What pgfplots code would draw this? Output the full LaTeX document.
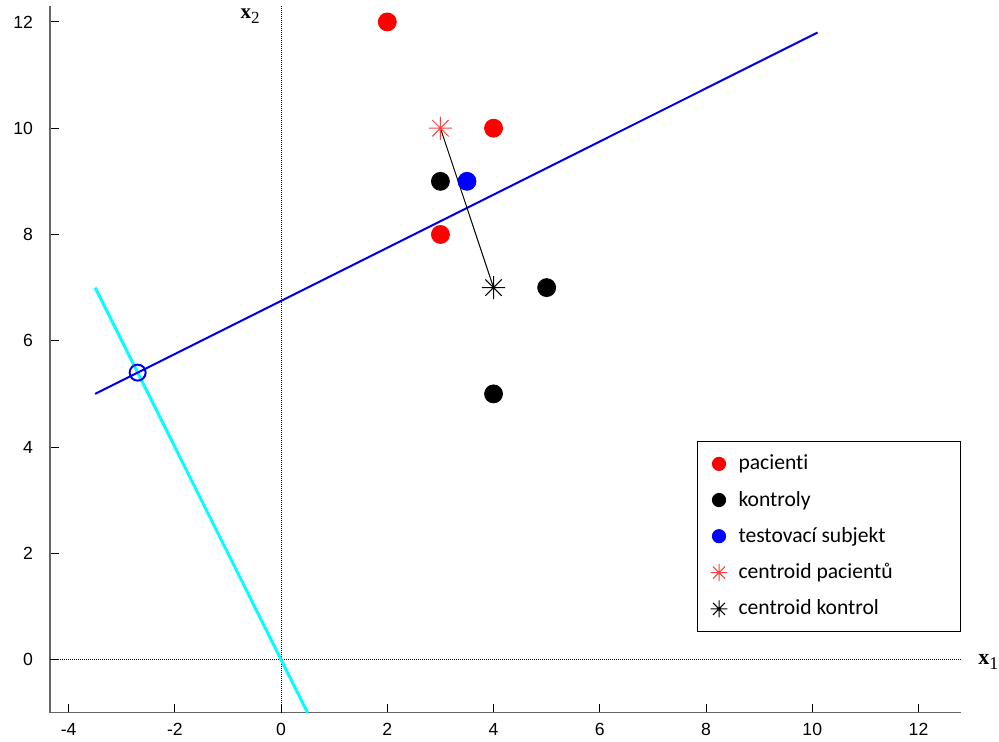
\documentclass[border=0pt]{standalone}
\usepackage{fontspec}
\setmainfont{Liberation Sans}
\newfontfamily\carlito[Ligatures=NoCommon]{Carlito}
\newfontfamily\tnr{Liberation Serif}
\usepackage{pgfplots}
\pgfplotsset{compat=1.18}
\definecolor{cy}{RGB}{0,255,255}
\definecolor{bl}{RGB}{0,0,240}
\pgfdeclareplotmark{ast8}{%
  \pgfpathmoveto{\pgfqpoint{-\pgfplotmarksize}{0pt}}\pgfpathlineto{\pgfqpoint{\pgfplotmarksize}{0pt}}%
  \pgfpathmoveto{\pgfqpoint{0pt}{-\pgfplotmarksize}}\pgfpathlineto{\pgfqpoint{0pt}{\pgfplotmarksize}}%
  \pgfpathmoveto{\pgfpointpolar{45}{\pgfplotmarksize}}\pgfpathlineto{\pgfpointpolar{225}{\pgfplotmarksize}}%
  \pgfpathmoveto{\pgfpointpolar{135}{\pgfplotmarksize}}\pgfpathlineto{\pgfpointpolar{315}{\pgfplotmarksize}}%
  \pgfusepathqstroke}
\newcommand{\lt}[1]{\makebox[105pt][l]{\strut #1}}
\begin{document}
\begin{tikzpicture}
\begin{axis}[
  scale only axis, width=455.5pt, height=353.35pt,
  xmin=-4.35, xmax=12.8, ymin=-1, ymax=12.3,
  axis x line*=bottom, axis y line*=left,
  axis line style={draw=gray!80!black, line width=0.7pt},
  xtick={-4,-2,...,12}, ytick={0,2,...,12},
  tick align=inside, major tick length=4.5pt,
  tick style={black, line width=0.5pt},
  ticklabel style={font=\fontsize{8.8}{10}\selectfont},
  /pgf/number format/assume math mode=true,
  xticklabel style={yshift=-3.6pt, inner ysep=1.5pt}, yticklabel style={xshift=-5pt},
  clip=false,
  legend cell align=left,
  legend style={at={(1,0.1143)}, anchor=south east, draw=black, line width=0.5pt,
    font=\carlito\fontsize{10.8}{10.6}\selectfont, row sep=5.1pt,
    inner xsep=4pt, inner ysep=4.75pt},
  legend image code/.code={\path (0pt,0pt) (14pt,0pt);
    \draw[#1, mark options={scale=0.73}] plot coordinates {(6.5pt,0pt)};},
]
\coordinate (sw) at (rel axis cs:0,0);
\coordinate (ne) at (rel axis cs:1,1);
% zero lines
\addplot[black, line width=0.5pt, dash pattern=on 0.5pt off 0.5pt, forget plot] coordinates {(0,-1) (0,12.3)};
\addplot[black, line width=0.5pt, dash pattern=on 0.5pt off 0.5pt, forget plot] coordinates {(-4.35,0) (12.8,0)};
% discriminant lines
\addplot[cy, line width=1.5pt, forget plot] coordinates {(-3.5,7) (0.5,-1)};
\addplot[bl, line width=1pt, forget plot] coordinates {(-3.5,5.0) (10.1,11.8)};
\addplot[only marks, mark=o, mark size=4pt, bl, line width=1pt, forget plot] coordinates {(-2.7,5.4)};
\addplot[black, line width=0.5pt, forget plot] coordinates {(3,10) (4,7)};
% points
\addplot[only marks, mark=*, mark size=4.5pt, red, mark options={draw=red, fill=red}] coordinates {(2,12) (4,10) (3,8)};
\addlegendentry{\lt{pacienti}}
\addplot[only marks, mark=*, mark size=4.5pt, black, mark options={draw=black, fill=black}] coordinates {(3,9) (5,7) (4,5)};
\addlegendentry{\lt{kontroly}}
\addplot[only marks, mark=*, mark size=4.5pt, blue, mark options={draw=blue, fill=blue}] coordinates {(3.5,9)};
\addlegendentry{\lt{testovací subjekt}}
\addplot[only marks, mark=ast8, mark size=5.8pt, red!75, line width=0.5pt] coordinates {(3,10)};
\addlegendentry{\lt{centroid pacientů}}
\addplot[only marks, mark=ast8, mark size=5.8pt, black, line width=0.5pt] coordinates {(4,7)};
\addlegendentry{\lt{centroid kontrol}}
\node[anchor=base east, inner sep=0pt, xshift=-10.5pt] at (axis cs:0,12.06)
  {\tnr\fontsize{10.5}{12}\selectfont\textbf{x}\raisebox{-2.5pt}{\fontsize{8.5}{10}\selectfont 2}};
\node[anchor=base west, inner sep=0pt, xshift=8.5pt] at (axis cs:12.8,-0.1)
  {\tnr\fontsize{11}{12}\selectfont\textbf{x}\raisebox{-2.5pt}{\fontsize{9}{10}\selectfont 1}};
\end{axis}
\pgfresetboundingbox
\path[use as bounding box] ([xshift=-25pt,yshift=-14.65pt]sw) rectangle ([xshift=19pt,yshift=3pt]ne);
\end{tikzpicture}
\end{document}
